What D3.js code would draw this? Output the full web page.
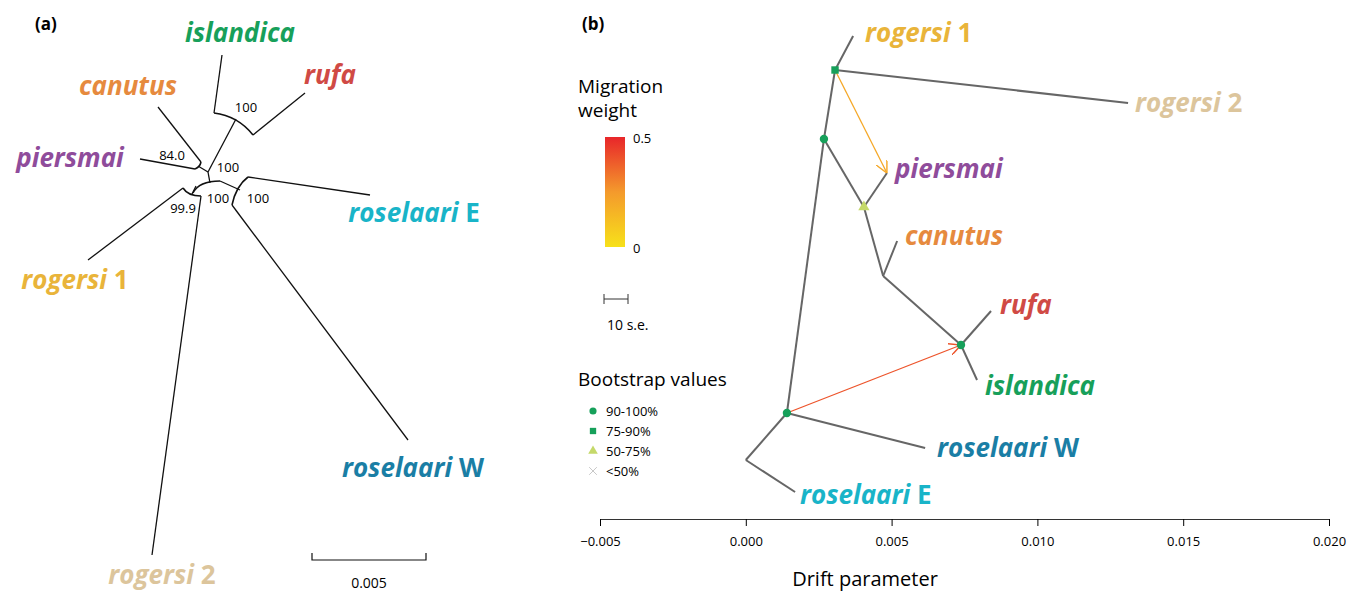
<!DOCTYPE html><html><head><meta charset="utf-8">
<script src="https://cdn.jsdelivr.net/npm/d3@7"></script>
<style>body{margin:0;background:#fff}text{font-family:"Open Sans",sans-serif}</style></head><body>
<svg id="c" width="1359" height="592"></svg>
<script>
const colors={rogersi1:"#e9b43a",rogersi2:"#dcc59c",piersmai:"#8f4c9b",canutus:"#e68a3e",rufa:"#d04a45",islandica:"#17a05a",roselaariW:"#1a7ea5",roselaariE:"#19b4c8"};
// Panel b: nodes [id, drift, vertical position]
const nodesB=[["root",0.0000,88],["A",0.00141,78.6],["B",0.00268,23.8],["C",0.00306,10],["D",0.00405,37.4],["E",0.00471,51.2],["F",0.00738,65],
["roselaariE",0.00169,94.4],["roselaariW",0.00615,85.6],["rogersi1",0.00368,3.2],["rogersi2",0.01311,16.6],["piersmai",0.00484,30.6],["canutus",0.00519,44.2],["rufa",0.00841,58.2],["islandica",0.00793,72]];
const edgesB=[["root","A"],["root","roselaariE"],["A","roselaariW"],["A","B"],["B","C"],["C","rogersi1"],["C","rogersi2"],["B","D"],["D","piersmai"],["D","E"],["E","canutus"],["E","F"],["F","rufa"],["F","islandica"]];
const migrations=[["C","piersmai",0.2],["A","F",0.4]];
const bootstrap=[["A","circle"],["B","circle"],["C","square"],["D","triangle"],["F","circle"]];
const labelsB=[["rogersi1","rogersi ","1",865,42],["rogersi2","rogersi ","2",1135,112],["piersmai","piersmai","",895,178],["canutus","canutus","",905,245],["rufa","rufa","",1000,314],["islandica","islandica","",985,395],["roselaariW","roselaari ","W",937,457],["roselaariE","roselaari ","E",800,504]];
const xTicks=[-0.005,0,0.005,0.010,0.015,0.020];
// Panel a: branches [x1,y1,x2,y2] and node arcs [x1,y1,cx,cy,x2,y2] in tree units (114 units = 0.005)
const segA=[[222,55,214,113],[305,93,253,135],[236,119,208,172],[158,107,201,162],[140,159,195,169],[198,166,208,172],[208,172,210,183],
[370,195,248,177],[408,440,232,205],[220,181,240,190],[88,260,183,188],[152,555,201,196],[192,194,196,186]];
const arcsA=[[214,113,238,116,253,135],[195,169,200,167,201,162],[193,193,199,181,220,181],[248,177,236,186,232,205],[183,188,188,196,201,196]];
const bootA=[["100",246,112],["84.0",172,160],["100",228,172],["100",218,203],["99.9",183,213],["100",258,203]];
const labelsA=[["islandica","islandica","",240,42],["rufa","rufa","",330,84],["canutus","canutus","",128,95],["piersmai","piersmai","",70,167],["roselaariE","roselaari ","E",414,222],["rogersi1","rogersi ","1",75,289],["roselaariW","roselaari ","W",413,477],["rogersi2","rogersi ","2",162,584]];

const svg=d3.select("#c");
function label(g,[k,it,up,x,y],anchor){const t=g.append("text").attr("x",x).attr("y",y).attr("text-anchor",anchor).attr("font-size",26).attr("font-weight","bold").attr("fill",colors[k]);
t.append("tspan").attr("font-style","italic").text(it);if(up)t.append("tspan").text(up);}
svg.append("text").attr("x",35).attr("y",30).attr("font-size",17).attr("font-weight","bold").text("(a)");
svg.append("text").attr("x",582).attr("y",30).attr("font-size",17).attr("font-weight","bold").text("(b)");
// Panel a
const u=d3.scaleLinear().domain([0,1]).range([0,1]);
const ga=svg.append("g");
ga.selectAll("line.a").data(segA).join("line").attr("x1",d=>u(d[0])).attr("y1",d=>u(d[1])).attr("x2",d=>u(d[2])).attr("y2",d=>u(d[3])).attr("stroke","#111").attr("stroke-width",1.3);
ga.selectAll("path.a").data(arcsA).join("path").attr("d",d=>{const p=d3.path();p.moveTo(u(d[0]),u(d[1]));p.quadraticCurveTo(u(d[2]),u(d[3]),u(d[4]),u(d[5]));return p;}).attr("fill","none").attr("stroke","#111").attr("stroke-width",1.6);
ga.selectAll("text.b").data(bootA).join("text").attr("x",d=>d[1]).attr("y",d=>d[2]).attr("font-size",13).attr("text-anchor","middle").text(d=>d[0]);
labelsA.forEach(l=>label(ga,l,"middle"));
const sbA=d3.scaleLinear().domain([0,0.005]).range([312,426]);
ga.append("path").attr("d",`M${sbA(0)},553V560H${sbA(0.005)}V553`).attr("fill","none").attr("stroke","#111").attr("stroke-width",1.2);
ga.append("text").attr("x",369).attr("y",588).attr("text-anchor","middle").attr("font-size",14).text("0.005");
// Panel b
const x=d3.scaleLinear().domain([-0.005,0.020]).range([600,1329]);
const y=d3.scaleLinear().domain([0,100]).range([20,520]);
const N=Object.fromEntries(nodesB.map(d=>[d[0],d]));
const gb=svg.append("g");
gb.selectAll("line.e").data(edgesB).join("line").attr("x1",d=>x(N[d[0]][1])).attr("y1",d=>y(N[d[0]][2])).attr("x2",d=>x(N[d[1]][1])).attr("y2",d=>y(N[d[1]][2])).attr("stroke","#666").attr("stroke-width",2);
const wc=d3.scaleLinear().domain([0,0.25,0.5]).range(["#f7e11a","#f49a2c","#e8262a"]);
const defs=svg.append("defs");
migrations.forEach((m,i)=>{const c=wc(m[2]);defs.append("marker").attr("id","m"+i).attr("viewBox","0 0 10 10").attr("refX",10).attr("refY",5).attr("markerWidth",12).attr("markerHeight",12).attr("markerUnits","userSpaceOnUse").attr("orient","auto").append("path").attr("d","M0,0L10,5L0,10").attr("fill","none").attr("stroke",c).attr("stroke-width",1.2);
gb.append("line").attr("x1",x(N[m[0]][1])).attr("y1",y(N[m[0]][2])).attr("x2",x(N[m[1]][1])).attr("y2",y(N[m[1]][2])).attr("stroke",c).attr("stroke-width",1.3).attr("marker-end",`url(#m${i})`);});
const sym={circle:d3.symbolCircle,square:d3.symbolSquare,triangle:d3.symbolTriangle,cross:d3.symbolX};
const symCol={circle:"#16a05a",square:"#16a05a",triangle:"#c5d96a",cross:"#c8c8c8"};
function drawSym(sel,type,size){sel.attr("d",d3.symbol(sym[type],size)());if(type=="cross")sel.attr("fill","none").attr("stroke",symCol.cross).attr("stroke-width",1);else sel.attr("fill",symCol[type]);}
bootstrap.forEach(d=>drawSym(gb.append("path").attr("transform",`translate(${x(N[d[0]][1])},${y(N[d[0]][2])})`),d[1],55));
labelsB.forEach(l=>label(gb,l,"start"));
const ax=gb.append("g").attr("transform","translate(0,519)").call(d3.axisBottom(x).tickValues(xTicks).tickFormat(d=>d3.format(".3f")(d).replace("-","−")).tickSize(7).tickSizeOuter(0));
ax.selectAll("text").attr("font-size",13).attr("font-family","Open Sans").attr("dy","1.3em");
ax.select(".domain").attr("stroke","#333");
gb.append("text").attr("x",865).attr("y",586).attr("text-anchor","middle").attr("font-size",20).text("Drift parameter");
// legend
gb.append("text").attr("x",578).attr("y",93).attr("font-size",19).text("Migration");
gb.append("text").attr("x",578).attr("y",117).attr("font-size",19).text("weight");
const lg=defs.append("linearGradient").attr("id","g").attr("x1",0).attr("y1",1).attr("x2",0).attr("y2",0);
[0,0.5,1].forEach(o=>lg.append("stop").attr("offset",o).attr("stop-color",wc(o*0.5)));
gb.append("rect").attr("x",605).attr("y",137).attr("width",20).attr("height",110).attr("fill","url(#g)");
gb.append("text").attr("x",633).attr("y",143).attr("font-size",13).text("0.5");
gb.append("text").attr("x",633).attr("y",253).attr("font-size",13).text("0");
gb.append("path").attr("d",`M604,294V304M604,299H628M628,294V304`).attr("stroke","#333").attr("fill","none");
gb.append("text").attr("x",607).attr("y",330).attr("font-size",14).text("10 s.e.");
gb.append("text").attr("x",578).attr("y",386).attr("font-size",19).text("Bootstrap values");
const leg=[["circle","90-100%"],["square","75-90%"],["triangle","50-75%"],["cross","<50%"]];
leg.forEach((l,i)=>{drawSym(gb.append("path").attr("transform",`translate(593,${411+i*20})`),l[0],40);
gb.append("text").attr("x",606).attr("y",416+i*20).attr("font-size",13).text(l[1]);});
</script></body></html>
